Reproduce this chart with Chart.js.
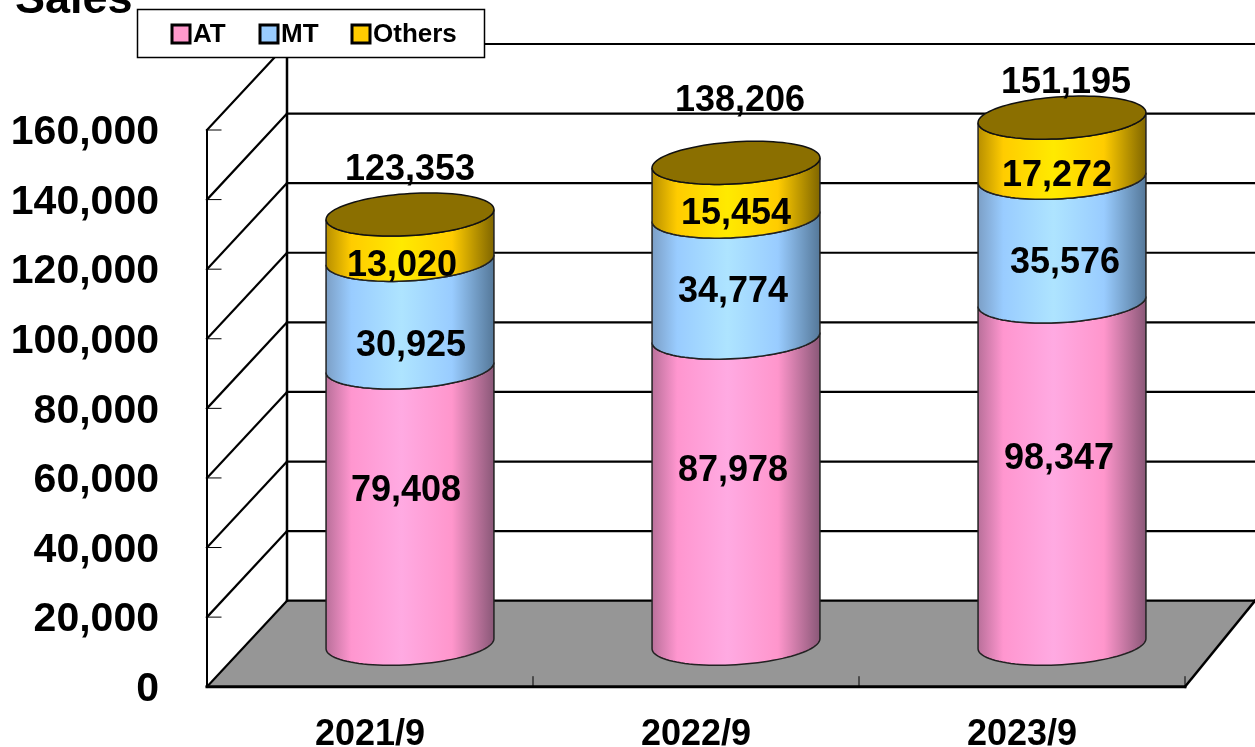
<!DOCTYPE html>
<html>
<head>
<meta charset="utf-8">
<title>Sales</title>
<script src="https://cdn.jsdelivr.net/npm/chart.js@4"></script>
<style>
    html, body { margin: 0; padding: 0; background: #fff; overflow: hidden; }
    canvas { display: block; }
</style>
</head>
<body>
<canvas id="salesChart" width="1255" height="747"></canvas>
<script>
// Values
const categories = ['2021/9', '2022/9', '2023/9'];
const atValues = [79408, 87978, 98347];
const mtValues = [30925, 34774, 35576];
const othersValues = [13020, 15454, 17272];
const totals = [123353, 138206, 151195];
const yTicks = [0, 20000, 40000, 60000, 80000, 100000, 120000, 140000, 160000];

const FONT = '"Liberation Sans", Arial, sans-serif';
const fmt = v => v.toLocaleString('en-US');

// 3D look: how far the back wall sits from the front axis plane
const DEPTH_X = 80;
const DEPTH_Y = 86;
const CAP_R = 21;      // vertical radius of the cylinder ellipse
const CAP_TILT = 5;    // ellipses lean up to the right

// hand placed labels in the original, offsets from the segment middle
const labelNudge = [
    [[-4, -14], [-3, -20], [-3, -14]],
    [[1, 32], [-3, 15], [3, 23]],
    [[-8, 29], [0, 24], [-5, 28]]
];
const totalNudge = [[0, -44], [4, -62], [4, -35]];

const shades = [
    ['#b9709a', '#ff96cf', '#ffaae2', '#ff96cc', '#8a5878'],
    ['#7c9fc6', '#99ccff', '#aee4ff', '#99ccff', '#557899'],
    ['#b88f00', '#ffcc00', '#ffea00', '#ffcc00', '#806600']
];
const swatches = ['#ff99cc', '#99ccff', '#ffcc00'];

function frontArc(ctx, cx, cy, halfW, reverse) {
    for (let i = 0; i <= 48; i++) {
        const t = Math.PI * (reverse ? i : 48 - i) / 48;
        ctx.lineTo(cx + halfW * Math.cos(t), cy - CAP_TILT * Math.cos(t) + CAP_R * Math.sin(t));
    }
}

function line(ctx, x1, y1, x2, y2, w) {
    ctx.lineWidth = w;
    ctx.beginPath();
    ctx.moveTo(x1, y1);
    ctx.lineTo(x2, y2);
    ctx.stroke();
}

const wallPlugin = {
    id: 'wall',
    beforeDatasetsDraw(chart) {
        const ctx = chart.ctx;
        const { left, right, bottom } = chart.chartArea;
        const y = chart.scales.y;
        const x = chart.scales.x;
        const w = chart.width;
        ctx.save();
        ctx.strokeStyle = '#000';
        ctx.lineCap = 'square';

        // floor
        ctx.fillStyle = '#969696';
        ctx.beginPath();
        ctx.moveTo(left, bottom);
        ctx.lineTo(right, bottom);
        ctx.lineTo(w, bottom - DEPTH_Y);
        ctx.lineTo(left + DEPTH_X, bottom - DEPTH_Y);
        ctx.closePath();
        ctx.fill();

        // grid lines, diagonal on the side wall then along the back wall
        yTicks.forEach(v => {
            const py = y.getPixelForValue(v);
            line(ctx, left, py, left + DEPTH_X, py - DEPTH_Y, 2.2);
            line(ctx, left + DEPTH_X, py - DEPTH_Y, w, py - DEPTH_Y, 2.2);
            line(ctx, left, py, left + 14, py, 1);
        });
        line(ctx, left + DEPTH_X, y.getPixelForValue(160000) - DEPTH_Y, left + DEPTH_X, bottom - DEPTH_Y, 2.5);
        line(ctx, left, y.getPixelForValue(160000), left, bottom, 2);
        line(ctx, right, bottom, w, bottom - DEPTH_Y, 2.5);
        line(ctx, left, bottom, right, bottom, 3);

        // category separators on the floor
        categories.forEach((c, i) => {
            const px = x.getPixelForValue(i) + (right - left) / categories.length / 2;
            line(ctx, px, bottom, px, bottom - 10, 1);
        });
        ctx.restore();
    }
};

const cylinderPlugin = {
    id: 'cylinders',
    afterDatasetsDraw(chart) {
        const ctx = chart.ctx;
        const count = chart.data.datasets.length;
        ctx.save();
        categories.forEach((c, i) => {
            let top = null;
            chart.data.datasets.forEach((ds, d) => {
                const bar = chart.getDatasetMeta(d).data[i];
                const cx = bar.x + DEPTH_X / 2;
                const halfW = bar.width / 2;
                const yTop = bar.y - DEPTH_Y / 2;
                const yBase = bar.base - DEPTH_Y / 2;
                const g = ctx.createLinearGradient(cx - halfW, 0, cx + halfW, 0);
                [0, 0.15, 0.45, 0.75, 1].forEach((s, k) => g.addColorStop(s, shades[d][k]));
                ctx.beginPath();
                frontArc(ctx, cx, yBase, halfW, true);
                frontArc(ctx, cx, yTop, halfW, false);
                ctx.closePath();
                ctx.fillStyle = g;
                ctx.fill();
                ctx.strokeStyle = '#222';
                ctx.lineWidth = 1.5;
                ctx.stroke();
                top = { cx, halfW, yTop };
            });
            // top cap
            ctx.beginPath();
            frontArc(ctx, top.cx, top.yTop, top.halfW, false);
            for (let k = 1; k < 48; k++) {
                const t = Math.PI * k / 48;
                ctx.lineTo(top.cx + top.halfW * Math.cos(t), top.yTop - CAP_TILT * Math.cos(t) - CAP_R * Math.sin(t));
            }
            ctx.closePath();
            ctx.fillStyle = '#8b6f00';
            ctx.fill();
            ctx.strokeStyle = '#111';
            ctx.lineWidth = 1.5;
            ctx.stroke();
        });

        // value labels
        ctx.fillStyle = '#000';
        ctx.font = 'bold 36px ' + FONT;
        ctx.textAlign = 'center';
        ctx.textBaseline = 'middle';
        categories.forEach((c, i) => {
            chart.data.datasets.forEach((ds, d) => {
                const bar = chart.getDatasetMeta(d).data[i];
                const mid = (bar.y + bar.base) / 2 - DEPTH_Y / 2;
                const n = labelNudge[d][i];
                ctx.fillText(fmt(ds.data[i]), bar.x + DEPTH_X / 2 + n[0], mid + n[1]);
            });
            const topBar = chart.getDatasetMeta(count - 1).data[i];
            const n = totalNudge[i];
            ctx.fillText(fmt(totals[i]), topBar.x + DEPTH_X / 2 + n[0], topBar.y - DEPTH_Y / 2 + n[1]);
        });
        ctx.restore();
    }
};

const legendBoxPlugin = {
    id: 'legendBox',
    afterDraw(chart) {
        const ctx = chart.ctx;
        ctx.save();
        // axis title, cut off by the top edge in the reference
        ctx.fillStyle = '#000';
        ctx.font = 'bold 45px ' + FONT;
        ctx.textAlign = 'left';
        ctx.textBaseline = 'alphabetic';
        ctx.fillText('Sales', 15, 13);

        ctx.fillStyle = '#fff';
        ctx.strokeStyle = '#000';
        ctx.lineWidth = 1.5;
        ctx.fillRect(137.5, 9.5, 347, 48);
        ctx.strokeRect(137.5, 9.5, 347, 48);

        const swatchX = [172, 260, 352];
        ctx.font = 'bold 26px ' + FONT;
        ctx.textBaseline = 'middle';
        chart.data.datasets.forEach((ds, i) => {
            ctx.fillStyle = swatches[i];
            ctx.lineWidth = 3;
            ctx.fillRect(swatchX[i], 25, 18, 18);
            ctx.strokeRect(swatchX[i], 25, 18, 18);
            ctx.fillStyle = '#000';
            ctx.fillText(ds.label, swatchX[i] + 21, 35);
        });
        ctx.restore();
    }
};

new Chart(document.getElementById('salesChart'), {
    type: 'bar',
    data: {
        labels: categories,
        datasets: [
            { label: 'AT', data: atValues, backgroundColor: 'transparent' },
            { label: 'MT', data: mtValues, backgroundColor: 'transparent' },
            { label: 'Others', data: othersValues, backgroundColor: 'transparent' }
        ]
    },
    options: {
        responsive: false,
        animation: false,
        layout: { padding: { top: 130, right: 70, left: 0, bottom: 0 } },
        datasets: { bar: { barPercentage: 0.515, categoryPercentage: 1 } },
        plugins: {
            legend: { display: false },
            tooltip: { enabled: false },
            title: { display: false }
        },
        scales: {
            x: {
                stacked: true,
                afterFit(scale) { scale.height = 60; },
                grid: { display: false, drawTicks: false },
                border: { display: false },
                ticks: {
                    color: '#000',
                    padding: 27,
                    maxRotation: 0,
                    font: { family: FONT, size: 36, weight: 'bold' }
                }
            },
            y: {
                stacked: true,
                min: 0,
                max: 160000,
                afterFit(scale) { scale.width = 207; },
                afterBuildTicks(scale) { scale.ticks = yTicks.map(v => ({ value: v })); },
                grid: { display: false, drawTicks: false },
                border: { display: false },
                ticks: {
                    color: '#000',
                    padding: 48,
                    labelOffset: 3,
                    font: { family: FONT, size: 41, weight: 'bold', lineHeight: 0.6 },
                    callback: v => fmt(v)
                }
            }
        }
    },
    plugins: [wallPlugin, cylinderPlugin, legendBoxPlugin]
});
</script>
</body>
</html>
